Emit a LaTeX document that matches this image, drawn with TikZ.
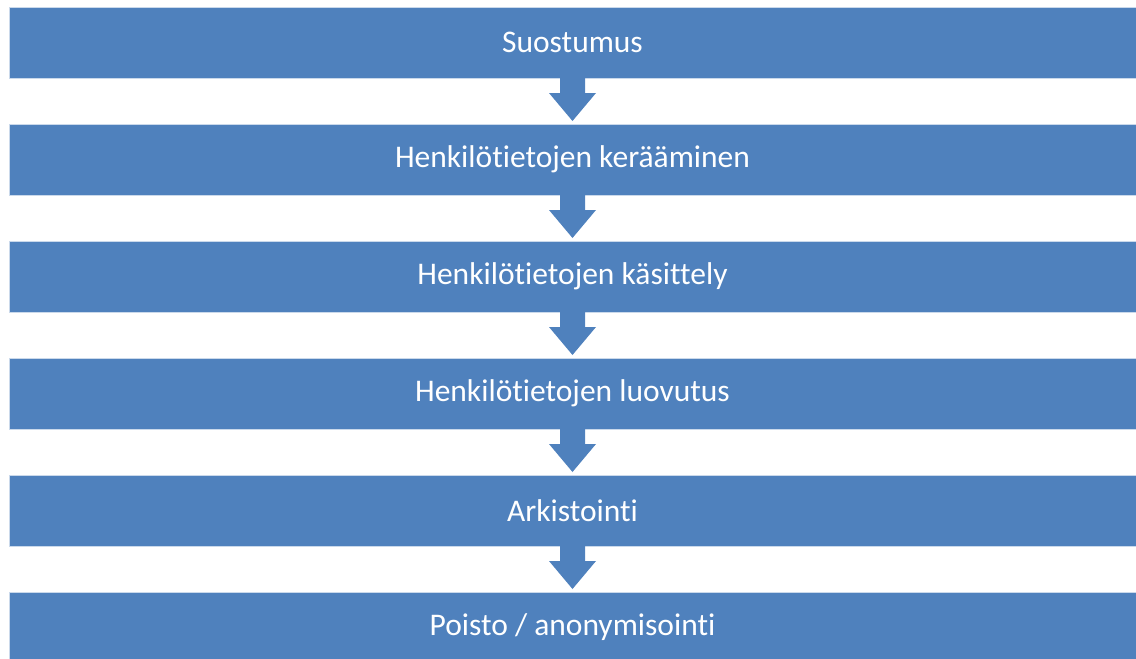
\documentclass[tikz,border=0pt]{standalone}
\usepackage{fontspec}
\setmainfont{Carlito}[Ligatures=NoCommon]
\usepackage{tikz}
\usetikzlibrary{positioning, calc}
\definecolor{phaseblue}{RGB}{79,129,189}

\newcommand{\phasearrow}[2]{%
	\fill[flow] ($(#1.south)+(-12.5,-3)$) -- ($(#1.south)+(12.5,-3)$)
		-- ($(#1.south)+(12.5,15)$) -- ($(#1.south)+(23.5,15)$)
		-- ($(#2.north)+(0,-3)$)
		-- ($(#1.south)+(-23.5,15)$) -- ($(#1.south)+(-12.5,15)$) -- cycle;}

\begin{document}
\begin{tikzpicture}[x=1pt,y=-1pt]

		\tikzset{
			phase/.style={
					rectangle, fill=phaseblue, draw=white!70!phaseblue, line width=0.8pt, text=white, inner sep=0pt, outer sep=0pt, minimum width=1127pt, minimum height=71pt, font=\fontsize{31.5}{36}\selectfont
				},
			flow/.style={
					fill=phaseblue
				},
		}
		\useasboundingbox (0,0) rectangle (1136,659);

		\node[phase](p1) at (572.5,42.5){Suostumus};
		\node[phase, below=46pt of p1](p2){Henkilötietojen kerääminen};
		\node[phase, below=46pt of p2](p3){Henkilötietojen käsittely};
		\node[phase, below=46pt of p3](p4){Henkilötietojen luovutus};
		\node[phase, below=46pt of p4](p5){Arkistointi};
		\node[phase, below=46pt of p5](p6){Poisto / anonymisointi};

		\phasearrow{p1}{p2}
		\phasearrow{p2}{p3}
		\phasearrow{p3}{p4}
		\phasearrow{p4}{p5}
		\phasearrow{p5}{p6}

	\end{tikzpicture}
\end{document}
